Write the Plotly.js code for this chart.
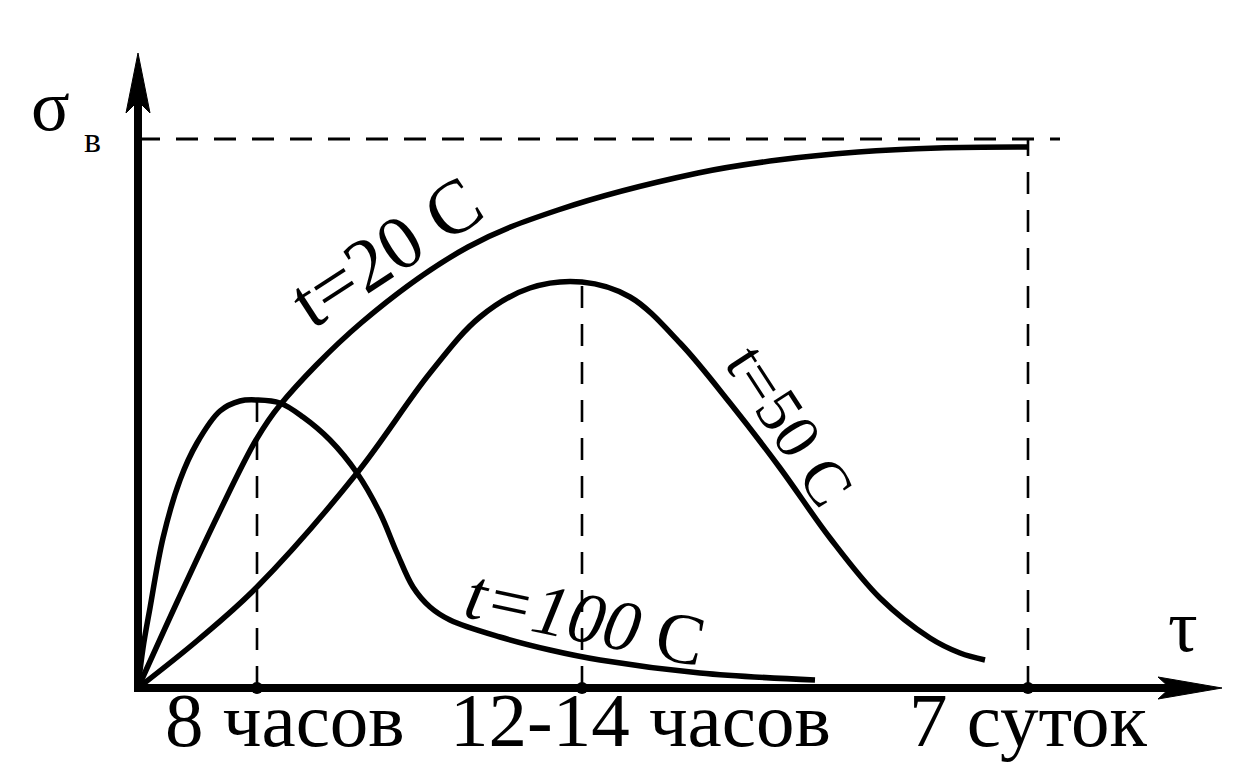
<!DOCTYPE html>
<html>
<head>
<meta charset="utf-8">
<script src="https://cdn.plot.ly/plotly-3.0.1.min.js"></script>
<style>
  html, body { margin: 0; padding: 0; background: #ffffff; }
  #chart { width: 1235px; height: 772px; }
</style>
</head>
<body>
<div id="chart"></div>
<script>
// Ageing curves: strength σв versus time τ (schematic units)
const tau20  = [0, 0.4, 0.8, 1.18, 1.42, 2.23, 3.3, 4.2, 5.6, 6.4, 7.2, 8.0, 8.9];
const sig20  = [0, 0.88, 1.73, 2.48, 2.83, 3.65, 4.41, 4.78, 5.15, 5.28, 5.36, 5.40, 5.41];

const tau50  = [0, 0.6, 1.19, 2.19, 2.92, 3.42, 3.92, 4.44, 4.92, 5.42, 5.92, 6.42, 6.92, 7.42, 7.92, 8.22, 8.47];
const sig50  = [0, 0.48, 1.01, 2.15, 3.15, 3.71, 4.0, 4.06, 3.91, 3.45, 2.85, 2.2, 1.5, 0.9, 0.5, 0.35, 0.28];

const tau100 = [0, 0.05, 0.12, 0.25, 0.42, 0.59, 0.82, 1.02, 1.19, 1.42, 1.65, 1.92, 2.19, 2.42, 2.59, 2.75, 2.92, 3.12, 3.62, 4.12, 4.62, 5.62, 6.77];
const sig100 = [0, 0.4, 0.8, 1.5, 2.08, 2.45, 2.77, 2.87, 2.88, 2.85, 2.71, 2.48, 2.15, 1.75, 1.35, 1.01, 0.81, 0.68, 0.51, 0.38, 0.28, 0.15, 0.08];

// Marked times on the τ axis and the levels they refer to
const markTau    = [1.19, 4.44, 8.9];
const markSigma  = [2.88, 4.06, 5.49];
const markLabels = ["8 часов", "12-14 часов", "7 суток"];
const markLabelTau = [1.47, 5.02, 8.9];

const curveLabels = ["t=20 C", "t=50 C", "<i>t=100</i> C"];
const curveLabelTau = [2.48, 6.52, 4.47];
const curveLabelSig = [4.37, 2.63, 0.70];
const curveLabelAngle = [-33, 57, 12];
const curveLabelSize = [76, 64, 72];

// Axis extents
const tauMax = 10.84;
const sigMax = 6.35;
const saturation = 5.49;
const saturationEnd = 9.22;

const FONT = "Liberation Serif, Times New Roman, serif";
const black = "#000000";
const DASH = "22px,16px";

const traces = [];

// dashed guides
traces.push({
  x: [0, saturationEnd], y: [saturation, saturation],
  mode: "lines", line: {color: black, width: 2.8, dash: DASH},
  hoverinfo: "skip"
});
markTau.forEach((t, i) => {
  traces.push({
    x: [t, t], y: [0, markSigma[i]],
    mode: "lines", line: {color: black, width: 2.6, dash: DASH},
    hoverinfo: "skip"
  });
});

// curves
[[tau20, sig20], [tau50, sig50], [tau100, sig100]].forEach(([xs, ys]) => {
  traces.push({
    x: xs, y: ys, mode: "lines",
    line: {color: black, width: 5.5, shape: "spline", smoothing: 1.0},
    hoverinfo: "skip"
  });
});

// axes
traces.push({
  x: [-0.04, tauMax - 0.3], y: [0, 0], mode: "lines",
  line: {color: black, width: 8}, hoverinfo: "skip"
});
traces.push({
  x: [0, 0], y: [-0.04, sigMax - 0.3], mode: "lines",
  line: {color: black, width: 8}, hoverinfo: "skip"
});
// arrowheads
traces.push({
  x: [tauMax, tauMax - 0.64, tauMax - 0.52, tauMax - 0.64, tauMax],
  y: [0, 0.11, 0, -0.11, 0],
  mode: "lines", fill: "toself", fillcolor: black,
  line: {color: black, width: 1}, hoverinfo: "skip"
});
traces.push({
  x: [0, -0.12, 0, 0.12, 0],
  y: [sigMax, sigMax - 0.6, sigMax - 0.48, sigMax - 0.6, sigMax],
  mode: "lines", fill: "toself", fillcolor: black,
  line: {color: black, width: 1}, hoverinfo: "skip"
});

// marked points
traces.push({
  x: markTau, y: markTau.map(() => 0), mode: "markers",
  marker: {color: black, size: 12}, hoverinfo: "skip"
});

const annotations = [];
markLabels.forEach((txt, i) => {
  annotations.push({
    x: markLabelTau[i], y: -0.32, text: txt, showarrow: false,
    xanchor: "center", yanchor: "middle",
    font: {family: FONT, size: 77, color: black}
  });
});
curveLabels.forEach((txt, i) => {
  annotations.push({
    x: curveLabelTau[i], y: curveLabelSig[i], text: txt, showarrow: false,
    xanchor: "center", yanchor: "middle", textangle: curveLabelAngle[i],
    font: {family: FONT, size: curveLabelSize[i], color: black}
  });
});
annotations.push({
  x: -0.88, y: 5.82, text: "σ", showarrow: false,
  xanchor: "center", yanchor: "middle",
  font: {family: FONT, size: 72, color: black}
});
annotations.push({
  x: -0.46, y: 5.48, text: "в", showarrow: false,
  xanchor: "center", yanchor: "middle",
  font: {family: FONT, size: 36, color: black}
});
annotations.push({
  x: 10.45, y: 0.62, text: "τ", showarrow: false,
  xanchor: "center", yanchor: "middle",
  font: {family: FONT, size: 74, color: black}
});

const layout = {
  width: 1235, height: 772,
  margin: {l: 0, r: 0, t: 0, b: 0},
  paper_bgcolor: "#ffffff", plot_bgcolor: "#ffffff",
  showlegend: false,
  xaxis: {range: [-1.38, 10.97], visible: false, fixedrange: true},
  yaxis: {range: [-0.84, 6.88], visible: false, fixedrange: true},
  annotations: annotations
};

Plotly.newPlot("chart", traces, layout, {staticPlot: true, displayModeBar: false});
</script>
</body>
</html>
